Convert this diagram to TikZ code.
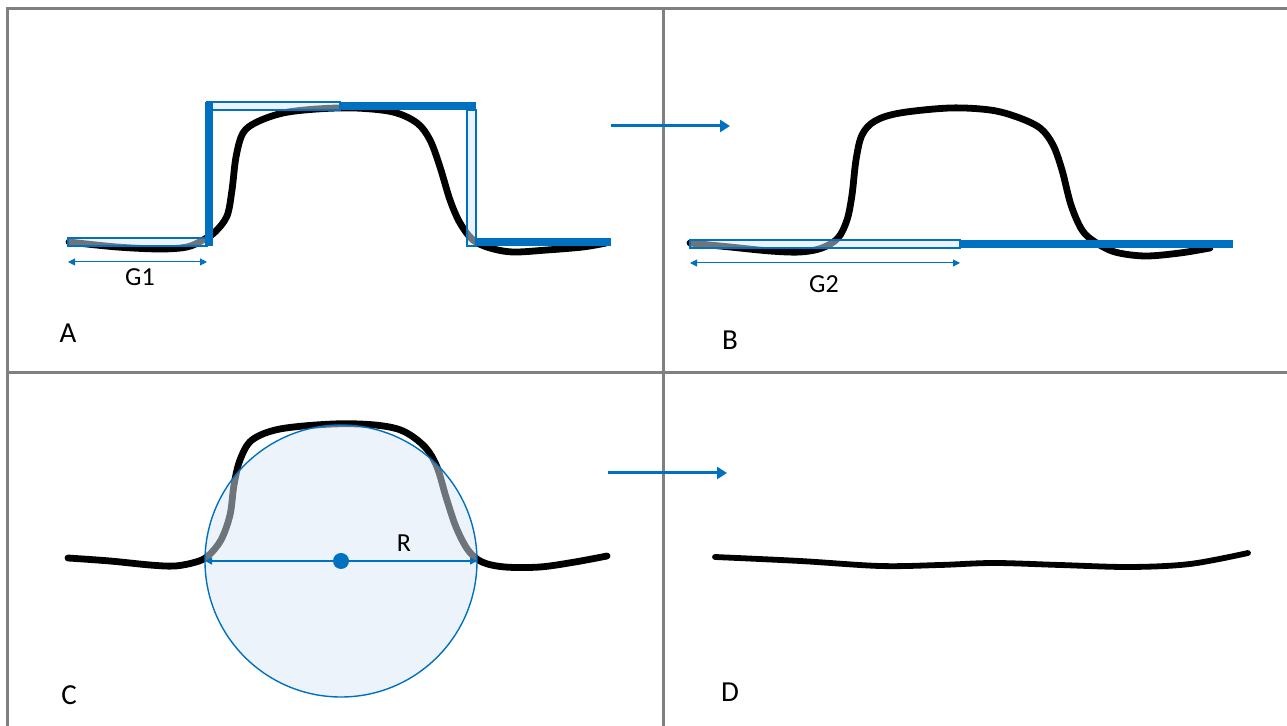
\documentclass[tikz,border=0pt]{standalone}
\usepackage{fontspec}
\setmainfont{Carlito}
\usetikzlibrary{arrows.meta}
\definecolor{ppblue}{HTML}{0070C0}
\definecolor{ppframe}{HTML}{808080}
\definecolor{ppshade}{HTML}{DAE8F5}
\tikzset{
	frameline/.style={draw=ppframe,line width=1.5pt},
	profile/.style={line width=3.4pt,line cap=round,line join=round},
	gatebox/.style={draw=ppblue,line width=0.6pt,fill=ppshade,fill opacity=0.5},
	gatebar/.style={fill=ppblue},
	shiftarrow/.style={draw=ppblue,line width=1.5pt,-{Triangle[length=5pt,width=6pt]}},
	gapspan/.style={draw=ppblue,line width=0.5pt,{Triangle[length=3.5pt,width=3.5pt]}-{Triangle[length=3.5pt,width=3.5pt]}},
	gaplabel/.style={anchor=base,inner sep=0pt,font=\fontsize{13}{15}\selectfont},
	panellabel/.style={anchor=base,inner sep=0pt,font=\fontsize{14.5}{17}\selectfont}
}
\begin{document}
\begin{tikzpicture}[x=0.5pt,y=-0.5pt]
	\useasboundingbox (0,0) rectangle (1287,726);
	
	% Frame
	\draw[frameline] (7,726)--(7,9)--(1287,9);
	\draw[frameline] (663,9)--(663,726);
	\draw[frameline] (7,373)--(1287,373);
	
	% Profiles
	\draw[profile] plot[smooth,tension=0.55] coordinates {
		(69,242) (117,247) (160,249) (187,247) (203,240) (215,232) (227,216)
		(232,190) (236,157) (243,133) (257,122) (283,113) (317,109) (355,108)
		(393,112) (417,123) (430,140) (440,167) (450,200) (460,223) (473,240)
		(490,248) (513,252) (547,250) (583,247) (606,243)};
	\draw[profile] plot[smooth,tension=0.55] coordinates {
		(690,243) (730,247) (770,251) (800,252) (822,248) (838,238) (847,220)
		(852,195) (856,160) (862,135) (875,121) (900,113) (950,108) (990,110)
		(1017,117) (1040,128) (1053,145) (1062,170) (1071,205) (1082,230)
		(1095,242) (1115,252) (1145,256) (1180,253) (1210,248)};
	\draw[profile] plot[smooth,tension=0.55] coordinates {
		(68,558) (110,561) (150,565) (175,566) (196,562) (208,556) (221,540)
		(230,515) (234,485) (240,460) (252,440) (280,429) (333,424) (375,425)
		(403,431) (425,447) (437,467) (446,497) (456,527) (468,550) (482,562)
		(505,567) (540,567) (575,562) (607,556)};
	\draw[profile,line width=2.9pt] plot[smooth,tension=0.55] coordinates {
		(715,557) (800,561) (880,566) (940,565) (994,563) (1060,565)
		(1130,567) (1190,564) (1248,553)};
	
	% Gate A
	\draw[gatebox] (68,238) rectangle (207,246);
	\draw[gatebox] (207,102) rectangle (340,110);
	\draw[gatebox] (467,110) rectangle (476,246);
	\fill[gatebar] (205,102) rectangle (213,246);
	\fill[gatebar] (340,102) rectangle (476,110);
	\fill[gatebar] (476,238) rectangle (611,246);
	
	% Gate B
	\draw[gatebox] (690,240) rectangle (960,248);
	\fill[gatebar] (960,240) rectangle (1233,248);
	
	% Circle C
	\coordinate (ctr) at (341,561);
	\coordinate (rimL) at (205,561);
	\coordinate (rimR) at (477,561);
	\draw[gatebox,line width=0.7pt] (ctr) circle (136);
	\draw[gapspan,line width=0.8pt] (ctr)--(rimL);
	\draw[gapspan,line width=0.8pt] (ctr)--(rimR);
	\fill[ppblue] (ctr) circle (8);
	
	% Spans
	\coordinate (g1L) at (68,262);
	\coordinate (g1R) at (207,262);
	\coordinate (g2L) at (690,263);
	\coordinate (g2R) at (960,263);
	\draw[gapspan] (g1L)--(g1R);
	\draw[gapspan] (g2L)--(g2R);
	
	% Shift arrows
	\coordinate (shAs) at (611,126);
	\coordinate (shAe) at (730,126);
	\coordinate (shCs) at (608,473);
	\coordinate (shCe) at (727,473);
	\draw[shiftarrow] (shAs)--(shAe);
	\draw[shiftarrow] (shCs)--(shCe);
	
	% Labels
	\node[gaplabel] (G1) at (140,286) {G1};
	\node[gaplabel] (G2) at (824,293) {G2};
	\node[gaplabel] (R) at (404,552) {R};
	\foreach \p/\x/\y in {A/68/343,B/730/350,C/69/705,D/730/702}
	\node[panellabel] (lab\p) at (\x,\y) {\p};
\end{tikzpicture}
\end{document}
